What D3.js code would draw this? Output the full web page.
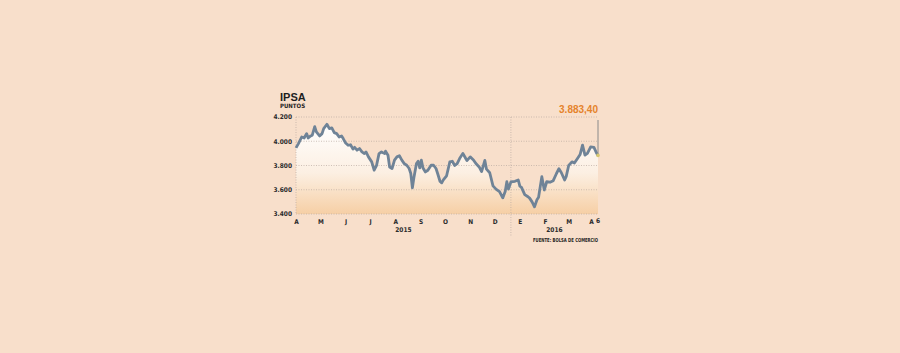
<!DOCTYPE html>
<html>
<head>
<meta charset="utf-8">
<script src="https://cdn.jsdelivr.net/npm/d3@7"></script>
<style>
  body { margin: 0; background: #f8dfcb; }
  svg text { font-family: "Liberation Sans Narrow", "DejaVu Sans Condensed", "Liberation Sans", sans-serif; font-weight: bold; }
</style>
</head>
<body>
<div id="chart"></div>
<script>
// IPSA closing values (points)
const dates = [
  '2015-04-01','2015-04-04','2015-04-08','2015-04-11','2015-04-14','2015-04-16','2015-04-19','2015-04-21',
  '2015-04-24','2015-04-26','2015-04-30','2015-05-03','2015-05-05','2015-05-09','2015-05-12','2015-05-15',
  '2015-05-18','2015-05-21','2015-05-24','2015-05-27','2015-05-29','2015-06-01','2015-06-04','2015-06-07',
  '2015-06-10','2015-06-12','2015-06-15','2015-06-18','2015-06-21','2015-06-24','2015-06-26','2015-06-29',
  '2015-07-03','2015-07-06','2015-07-09','2015-07-12','2015-07-15','2015-07-19','2015-07-20','2015-07-23',
  '2015-07-25','2015-07-28','2015-07-31','2015-08-03','2015-08-06','2015-08-09','2015-08-12','2015-08-15',
  '2015-08-18','2015-08-20','2015-08-22','2015-08-24','2015-08-27','2015-08-29','2015-08-31','2015-09-02',
  '2015-09-04','2015-09-07','2015-09-10','2015-09-14','2015-09-17','2015-09-20','2015-09-22','2015-09-25',
  '2015-09-27','2015-09-29','2015-10-03','2015-10-07','2015-10-10','2015-10-13','2015-10-16','2015-10-19',
  '2015-10-23','2015-10-26','2015-10-28','2015-11-01','2015-11-05','2015-11-08','2015-11-12','2015-11-15',
  '2015-11-19','2015-11-21','2015-11-25','2015-11-29','2015-12-03','2015-12-07','2015-12-11','2015-12-14',
  '2015-12-16','2015-12-18','2015-12-21','2015-12-26','2015-12-30','2016-01-01','2016-01-03','2016-01-07',
  '2016-01-11','2016-01-13','2016-01-16','2016-01-19','2016-01-22','2016-01-24','2016-01-28','2016-01-31',
  '2016-02-03','2016-02-07','2016-02-11','2016-02-15','2016-02-18','2016-02-21','2016-02-25','2016-02-27',
  '2016-03-01','2016-03-05','2016-03-08','2016-03-12','2016-03-15','2016-03-18','2016-03-21','2016-03-24',
  '2016-03-28','2016-04-01','2016-04-04','2016-04-06'
];
const values = [
  3945, 3980, 4035, 4027, 4063, 4027, 4044, 4050,
  4120, 4077, 4044, 4063, 4104, 4140, 4104, 4110,
  4071, 4063, 4035, 4044, 4022, 3985, 3967, 3971,
  3935, 3950, 3926, 3940, 3912, 3898, 3912, 3871,
  3830, 3761, 3802, 3898, 3912, 3898, 3918, 3885,
  3788, 3775, 3844, 3871, 3880, 3844, 3816, 3802,
  3775, 3734, 3616, 3706, 3816, 3835, 3780, 3844,
  3780, 3747, 3761, 3802, 3802, 3775, 3734, 3668,
  3657, 3681, 3715, 3830, 3835, 3800, 3815, 3857,
  3900, 3864, 3840, 3871, 3846, 3816, 3788, 3750,
  3842, 3770, 3740, 3632, 3603, 3584, 3533, 3585,
  3666, 3605, 3664, 3670, 3681, 3630, 3620, 3560,
  3542, 3531, 3500, 3459, 3517, 3538, 3708, 3598,
  3666, 3662, 3675, 3734, 3774, 3740, 3680, 3710,
  3800, 3830, 3820, 3860, 3890, 3968, 3886, 3900,
  3953, 3950, 3905, 3883.4
];
const monthStarts = [
  '2015-04-01','2015-05-01','2015-06-01','2015-07-01','2015-08-01','2015-09-01','2015-10-01',
  '2015-11-01','2015-12-01','2016-01-01','2016-02-01','2016-03-01','2016-04-01'
];
const monthLabels = ['A','M','J','J','A','S','O','N','D','E','F','M','A'];
const yTicks = [3400, 3600, 3800, 4000, 4200];
const yearLabels = ['2015', '2016'];
const yearBreak = '2015-12-21';
const lastDayLabel = '6';
const lastValueLabel = '3.883,40';

const W = 900, H = 353;
const parse = d3.timeParse('%Y-%m-%d');
const data = dates.map((d, i) => ({ date: parse(d), value: values[i] }));
const es = d3.formatLocale({ decimal: ',', thousands: '.', grouping: [3], currency: ['$', ''] });

const svg = d3.select('#chart').append('svg')
    .attr('width', W)
    .attr('height', H);

svg.append('rect')
    .attr('width', W)
    .attr('height', H)
    .attr('fill', '#f8dfcb');

// scales
const x = d3.scaleTime()
    .domain([parse(monthStarts[0]), data[data.length - 1].date])
    .range([296, 598]);
const y = d3.scaleLinear()
    .domain([3400, 4200])
    .range([214, 117]);

// gradient for the area under the line
const grad = svg.append('defs').append('linearGradient')
    .attr('id', 'areaGrad')
    .attr('gradientUnits', 'userSpaceOnUse')
    .attr('x1', 0).attr('x2', 0)
    .attr('y1', y(4150)).attr('y2', y(3400));
grad.append('stop').attr('offset', '0%').attr('stop-color', '#ffffff');
grad.append('stop').attr('offset', '55%').attr('stop-color', '#fcefe2');
grad.append('stop').attr('offset', '100%').attr('stop-color', '#f6cfa5');

const area = d3.area()
    .x(d => x(d.date))
    .y0(y(3400))
    .y1(d => y(d.value));

svg.append('path')
    .datum(data)
    .attr('d', area)
    .attr('fill', 'url(#areaGrad)');

// grid lines
svg.append('g')
    .selectAll('line')
    .data(yTicks)
    .enter()
    .append('line')
    .attr('x1', x.range()[0])
    .attr('x2', x.range()[1])
    .attr('y1', d => y(d))
    .attr('y2', d => y(d))
    .attr('stroke', '#b9aaa0')
    .attr('stroke-width', 0.7)
    .attr('stroke-dasharray', '1,1.5');

// left edge and year divider
[x.range()[0], x(parse(yearBreak))].forEach(px => {
    svg.append('line')
        .attr('x1', px).attr('x2', px)
        .attr('y1', y(4200)).attr('y2', px === x.range()[0] ? y(3400) : 236)
        .attr('stroke', '#b9aaa0')
        .attr('stroke-width', 0.7)
        .attr('stroke-dasharray', '1,1.5');
});

// Y labels
svg.append('g')
    .selectAll('text')
    .data(yTicks)
    .enter()
    .append('text')
    .attr('x', 292)
    .attr('y', d => y(d))
    .attr('dy', '0.35em')
    .attr('text-anchor', 'end')
    .style('font-size', '6.5px')
    .style('fill', '#2b2b2b')
    .text(d => es.format(',')(d));

// line
const line = d3.line()
    .x(d => x(d.date))
    .y(d => y(d.value));

svg.append('path')
    .datum(data)
    .attr('d', line)
    .attr('fill', 'none')
    .attr('stroke', '#6f8397')
    .attr('stroke-width', 2.8)
    .attr('stroke-linejoin', 'round');

// marker for last value
const last = data[data.length - 1];
svg.append('line')
    .attr('x1', x(last.date)).attr('x2', x(last.date))
    .attr('y1', 120).attr('y2', y(last.value))
    .attr('stroke', '#8a8a8a')
    .attr('stroke-width', 1);
svg.append('circle')
    .attr('cx', x(last.date))
    .attr('cy', y(last.value))
    .attr('r', 1.8)
    .attr('fill', '#d8c870');

svg.append('text')
    .attr('x', 598)
    .attr('y', 113)
    .attr('text-anchor', 'end')
    .style('font-family', '"Liberation Sans", sans-serif')
    .style('font-size', '10px')
    .style('fill', '#e5832b')
    .text(lastValueLabel);

// X axis month labels
const xAxis = d3.axisBottom(x)
    .tickValues(monthStarts.map(parse))
    .tickSize(0)
    .tickFormat((d, i) => monthLabels[i]);

const gx = svg.append('g')
    .attr('transform', 'translate(0,216)')
    .call(xAxis);
gx.select('.domain').remove();
gx.selectAll('text')
    .style('font-size', '6.5px')
    .style('fill', '#2b2b2b')
    .attr('dy', '0.7em')
    .attr('dx', (d, i) => i === monthLabels.length - 1 ? -3 : 0);

svg.append('text')
    .attr('x', x(last.date))
    .attr('y', 223)
    .attr('text-anchor', 'middle')
    .style('font-size', '6.5px')
    .style('fill', '#2b2b2b')
    .text(lastDayLabel);

// year labels, centred in each segment
const segs = [[x.range()[0], x(parse(yearBreak))], [x(parse(yearBreak)), x.range()[1]]];
yearLabels.forEach((label, i) => {
    svg.append('text')
        .attr('x', (segs[i][0] + segs[i][1]) / 2)
        .attr('y', 232)
        .attr('text-anchor', 'middle')
        .style('font-size', '6.5px')
        .style('fill', '#2b2b2b')
        .text(label);
});

// titles
svg.append('text')
    .attr('x', 280)
    .attr('y', 101)
    .style('font-family', '"Liberation Sans", sans-serif')
    .style('font-size', '11px')
    .style('font-weight', '900')
    .style('fill', '#1e1e1e')
    .text('IPSA');

svg.append('text')
    .attr('x', 280)
    .attr('y', 107.5)
    .style('font-size', '6px')
    .style('fill', '#1e1e1e')
    .text('PUNTOS');

svg.append('text')
    .attr('x', 598)
    .attr('y', 242)
    .attr('text-anchor', 'end')
    .attr('textLength', 65)
    .attr('lengthAdjust', 'spacingAndGlyphs')
    .style('font-size', '5.5px')
    .style('fill', '#1e1e1e')
    .text('FUENTE: BOLSA DE COMERCIO');
</script>
</body>
</html>
